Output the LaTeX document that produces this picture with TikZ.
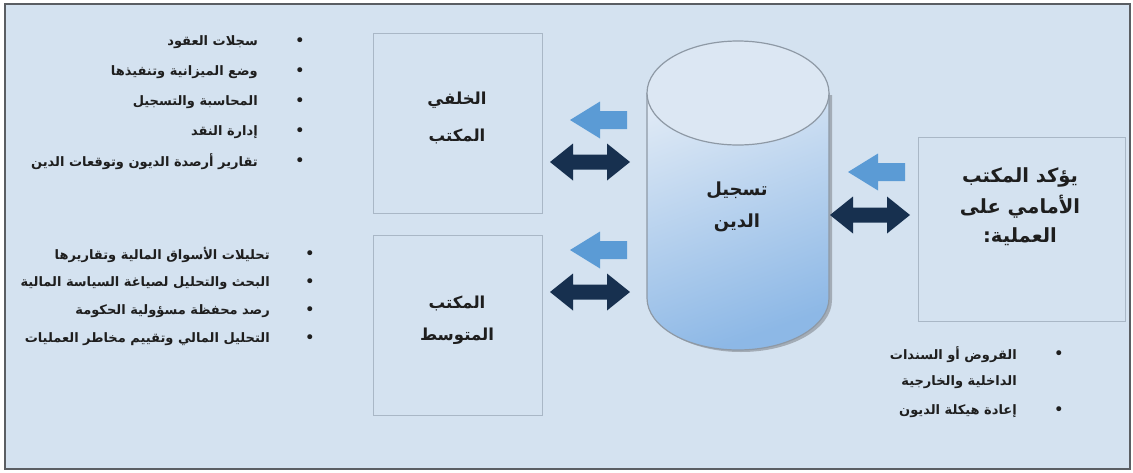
\documentclass[tikz,border=0pt]{standalone}
\usepackage{fontspec}
\TeXXeTstate=1
\newfontfamily\arabicfont[Script=Arabic]{DejaVu Sans}
\definecolor{bgfill}{HTML}{D4E2F0}
\definecolor{frameline}{HTML}{5A5E63}
\definecolor{boxline}{HTML}{A9B7C6}
\definecolor{lightarr}{HTML}{5B9BD5}
\definecolor{darkarr}{HTML}{17304F}
\definecolor{cylline}{HTML}{8E99A5}
\definecolor{cylshadow}{HTML}{A3ACB6}
\definecolor{cyltop}{HTML}{DCE7F3}
\definecolor{cylblue}{HTML}{8DB8E6}
\definecolor{cyllight}{HTML}{E8EFF7}
\definecolor{txt}{HTML}{1E1E1E}
\tikzset{
  listtext/.style={font=\arabicfont\bfseries\fontsize{13}{15}\selectfont, text=txt, inner sep=0pt, anchor=east},
  bul/.style={font=\arabicfont\fontsize{17}{18}\selectfont, text=txt, inner sep=0pt},
  boxtitle/.style={font=\arabicfont\bfseries\fontsize{16.5}{19}\selectfont, text=txt, inner sep=0pt},
  cyltitle/.style={font=\arabicfont\bfseries\fontsize{18}{20}\selectfont, text=txt, inner sep=0pt},
  fronttitle/.style={font=\arabicfont\bfseries\fontsize{19.5}{22}\selectfont, text=txt, inner sep=0pt},
  officebox/.style={draw=boxline, line width=1pt, fill=bgfill, anchor=north west, inner sep=0pt},
  larrow/.pic={\fill[lightarr] (0,0) -- (30,-18.5) -- (30,-9) -- (57,-9) -- (57,9) -- (30,9) -- (30,18.5) -- cycle;},
  darrow/.pic={\fill[darkarr] (0,0) -- (23,-18.5) -- (23,-7.5) -- (57,-7.5) -- (57,-18.5) -- (80,0) -- (57,18.5) -- (57,7.5) -- (23,7.5) -- (23,18.5) -- cycle;}
}
\begin{document}
\begin{tikzpicture}[x=1pt,y=-1pt]
\useasboundingbox (0,0) rectangle (1133,472);
\fill[white] (0,0) rectangle (1133,472);
\draw[frameline, line width=2pt, fill=bgfill] (5,4) rectangle (1130,469);

% office boxes
\node[officebox, minimum width=169pt, minimum height=180pt] (back) at (373,33) {};
\node[officebox, minimum width=169pt, minimum height=180pt] (middle) at (373,235) {};
\node[officebox, minimum width=207pt, minimum height=184pt] (front) at (918,137) {};

\node[boxtitle] (backA) at (457,100) {\beginR الخلفي\endR};
\node[boxtitle] (backB) at (457,136) {\beginR المكتب\endR};
\node[boxtitle] (midA) at (457,303) {\beginR المكتب\endR};
\node[boxtitle] (midB) at (457,336) {\beginR المتوسط\endR};
\node[fronttitle] (frA) at (1020,177) {\beginR يؤكد المكتب\endR};
\node[fronttitle] (frB) at (1020,207) {\beginR الأمامي على\endR};
\node[fronttitle] (frC) at (1020,237) {\beginR العملية:\endR};

% cylinder
\fill[cylshadow] (650,95) -- (650,300) arc[start angle=180,end angle=0,x radius=91,y radius=52] -- (832,95) -- cycle;
\shade[top color=cyllight, bottom color=cylblue, shading angle=20]
  (647,93) -- (647,298) arc[start angle=180,end angle=0,x radius=91,y radius=52] -- (829,93) arc[start angle=0,end angle=-180,x radius=91,y radius=52] -- cycle;
\draw[cylline, line width=1.2pt]
  (647,93) -- (647,298) arc[start angle=180,end angle=0,x radius=91,y radius=52] -- (829,93);
\draw[cylline, line width=1.2pt, fill=cyltop] (738,93) ellipse[x radius=91, y radius=52];
\node[cyltitle] (cylA) at (737,190) {\beginR تسجيل\endR};
\node[cyltitle] (cylB) at (737,223) {\beginR الدين\endR};

% arrows
\pic (la1) at (570,120) {larrow};
\pic (da1) at (550,162) {darrow};
\pic (la2) at (570,250) {larrow};
\pic (da2) at (550,292) {darrow};
\pic (la3) at (848,172) {larrow};
\pic (da3) at (830,215) {darrow};

% top-left list
\foreach \y/\t [count=\i] in {42/{سجلات العقود},72/{وضع الميزانية وتنفيذها},102/{المحاسبة والتسجيل},132/{إدارة النقد},162/{تقارير أرصدة الديون وتوقعات الدين}}{
  \node[listtext] (tl\i) at (258,\y) {\beginR\t\endR};
  \node[bul] (tlb\i) at (300,\y) {•};
}
% bottom-left list
\foreach \y/\t [count=\i] in {255/{تحليلات الأسواق المالية وتقاريرها},283/{البحث والتحليل لصياغة السياسة المالية},311/{رصد محفظة مسؤولية الحكومة},339/{التحليل المالي وتقييم مخاطر العمليات}}{
  \node[listtext] (bl\i) at (270,\y) {\beginR\t\endR};
  \node[bul] (blb\i) at (310,\y) {•};
}
% right list
\node[listtext] (rl1) at (1017,355) {\beginR القروض أو السندات\endR};
\node[listtext] (rl1b) at (1017,382) {\beginR الداخلية والخارجية\endR};
\node[bul] (rlb1) at (1059,355) {•};
\node[listtext] (rl2) at (1017,411) {\beginR إعادة هيكلة الديون\endR};
\node[bul] (rlb2) at (1059,411) {•};
\end{tikzpicture}
\end{document}
